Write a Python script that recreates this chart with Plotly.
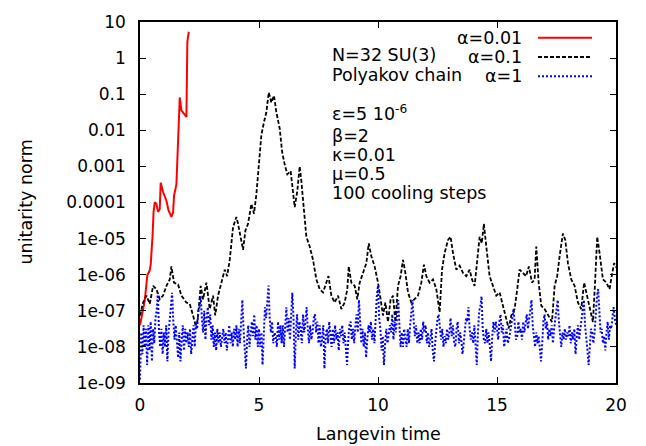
import plotly.graph_objects as go
import numpy as np

# Langevin time and log10(unitarity norm) for each gauge-cooling strength alpha

# alpha = 0.01 (runs away before t = 2.1)
red_t = [0.0, 0.06, 0.2, 0.31, 0.4, 0.45, 0.5, 0.53, 0.57, 0.62, 0.69, 0.76, 0.83, 0.87,
         0.97, 1.11, 1.2, 1.32, 1.39, 1.43, 1.53, 1.57, 1.62, 1.67, 1.74, 1.85, 1.95,
         1.99, 2.05]
red_log = [-7.4, -7.17, -6.72, -6.0, -5.9, -5.72, -5.35, -4.9, -4.26, -3.99, -4.04, -4.26,
           -4.18, -3.45, -3.71, -3.95, -4.22, -4.40, -4.27, -3.81, -3.50, -2.63, -1.54,
           -1.09, -1.45, -1.54, -1.63, 0.46, 0.73]

# alpha = 0.1
black_t = [0.0, 0.13, 0.27, 0.41, 0.55, 0.69, 0.83, 0.97, 1.11, 1.25,
           1.32, 1.43, 1.6, 1.74, 1.95, 2.09, 2.23, 2.37, 2.44, 2.55,
           2.65, 2.79, 2.93, 3.07, 3.16, 3.28, 3.42, 3.56, 3.66, 3.77,
           3.91, 4.05, 4.12, 4.23, 4.33, 4.43, 4.54, 4.68, 4.79, 4.89,
           4.99, 5.10, 5.21, 5.31, 5.41, 5.52, 5.63, 5.73, 5.87, 5.97,
           6.08, 6.19, 6.33, 6.43, 6.50, 6.61, 6.71, 6.78, 6.89, 6.99,
           7.13, 7.27, 7.41, 7.55, 7.69, 7.83, 7.92, 8.04, 8.18, 8.32,
           8.46, 8.6, 8.71, 8.77, 8.88, 9.02, 9.13, 9.23, 9.37, 9.51,
           9.61, 9.72, 9.86, 10.0, 10.11, 10.21, 10.31, 10.42, 10.53, 10.63,
           10.73, 10.84, 10.95, 11.05, 11.15, 11.26, 11.40, 11.54, 11.68, 11.82,
           11.93, 12.03, 12.17, 12.31, 12.45, 12.59, 12.69, 12.80, 12.94, 13.05,
           13.15, 13.29, 13.43, 13.57, 13.71, 13.85, 13.95, 14.06, 14.17, 14.27,
           14.36, 14.45, 14.55, 14.69, 14.83, 14.97, 15.11, 15.25, 15.39, 15.49,
           15.60, 15.74, 15.85, 15.95, 16.09, 16.22, 16.34, 16.47, 16.58, 16.65,
           16.75, 16.86, 17.0, 17.17, 17.31, 17.42, 17.53, 17.63, 17.77, 17.87,
           17.98, 18.12, 18.26, 18.40, 18.54, 18.66, 18.75, 18.87, 19.03, 19.12,
           19.21, 19.31, 19.45, 19.59, 19.73, 19.82, 19.92, 20.0]
black_log = [-7.13, -6.77, -6.58, -6.81, -6.31, -6.40, -6.68, -6.58, -6.31, -6.13,
             -5.77, -6.22, -6.27, -6.58, -6.77, -6.81, -7.13, -7.49, -7.13, -6.31,
             -6.68, -6.22, -6.95, -6.58, -7.13, -6.58, -6.22, -5.86, -6.04, -5.59,
             -4.68, -4.40, -4.59, -4.95, -5.31, -4.77, -4.59, -4.04, -4.31, -3.77,
             -3.04, -2.13, -1.77, -1.50, -0.95, -1.23, -1.04, -1.50, -1.95, -2.59,
             -2.95, -3.22, -3.13, -3.77, -4.13, -3.68, -3.00, -3.41, -4.13, -4.95,
             -5.22, -5.59, -6.13, -6.40, -6.49, -6.22, -6.04, -6.58, -6.77, -6.58,
             -6.95, -6.77, -6.40, -5.77, -6.22, -6.31, -6.68, -6.22, -5.95, -5.68,
             -5.13, -5.49, -5.77, -6.22, -6.68, -7.13, -6.77, -7.31, -6.68, -6.58,
             -7.31, -6.31, -6.04, -5.59, -5.95, -6.49, -6.77, -6.68, -6.58, -6.22,
             -5.72, -6.04, -6.22, -6.13, -6.40, -7.04, -5.86, -5.40, -5.04, -4.95,
             -5.40, -5.86, -5.75, -5.95, -6.04, -5.86, -6.13, -6.31, -5.49, -4.95,
             -5.13, -4.59, -5.22, -6.04, -6.31, -6.58, -6.49, -6.86, -7.31, -7.49,
             -7.13, -6.95, -6.40, -5.86, -5.95, -6.04, -5.77, -6.22, -6.13, -5.22,
             -6.22, -6.86, -6.95, -7.13, -7.31, -6.31, -6.04, -5.49, -4.86, -5.04,
             -5.68, -6.13, -6.31, -6.77, -6.95, -6.22, -6.49, -6.86, -7.31, -6.22,
             -4.95, -5.40, -6.13, -6.22, -6.40, -6.04, -5.68, -5.80]

# alpha = 1, sampled every 0.05 in Langevin time (one row per unit of time)
blue_dt = 0.05
blue_log = [
    -8.9, -7.6, -8.2, -7.4, -8.0, -7.5, -8.5, -7.4, -8.1, -7.3, -8.4, -7.5, -7.9, -7.2, -7.0, -6.5, -7.6, -8.0, -7.5, -8.2,
    -7.6, -8.0, -7.4, -8.4, -7.6, -7.2, -6.8, -6.5, -7.3, -7.8, -7.4, -8.0, -8.3, -7.6, -8.4, -7.8, -7.4, -8.1, -7.5, -7.9,
    -7.6, -8.0, -7.5, -8.2, -7.7, -7.4, -8.0, -7.3, -7.5, -7.0, -6.9, -6.6, -7.2, -7.6, -7.0, -7.8, -7.2, -6.9, -7.4, -7.1,
    -7.8, -7.4, -8.0, -7.6, -8.1, -7.5, -7.9, -7.6, -8.0, -7.7, -7.5, -7.9, -7.6, -8.1, -7.7, -7.4, -7.9, -7.6, -8.0, -7.5,
    -7.8, -7.4, -8.0, -7.5, -7.9, -7.2, -6.7, -7.5, -8.2, -8.6, -7.8, -7.4, -8.0, -7.6, -7.3, -7.7, -7.1, -7.8, -7.4, -8.0,
    -7.5, -8.0, -7.6, -8.5, -7.6, -6.9, -7.2, -6.6, -6.3, -7.2, -7.6, -7.3, -7.9, -7.6, -7.7, -8.0, -7.3, -7.8, -7.4, -7.9,
    -7.4, -8.0, -7.2, -6.9, -7.6, -7.2, -7.8, -7.0, -6.5, -7.2, -8.6, -7.6, -7.1, -7.8, -7.3, -7.5, -7.9, -7.1, -7.6, -7.3,
    -6.9, -7.5, -7.9, -7.4, -7.8, -7.6, -7.2, -7.1, -7.6, -7.3, -7.9, -7.4, -8.0, -7.8, -7.4, -8.6, -7.7, -7.5, -7.9, -7.3,
    -7.6, -8.0, -7.5, -7.9, -7.4, -7.8, -7.6, -8.1, -7.5, -7.7, -7.4, -7.9, -7.6, -8.2, -8.5, -7.8, -7.4, -7.3, -7.8, -7.5,
    -7.9, -7.4, -7.1, -7.6, -6.7, -7.3, -7.9, -7.5, -8.0, -7.6, -8.3, -7.8, -7.4, -7.6, -7.3, -7.8, -7.5, -7.9, -7.0, -6.6,
    -6.3, -7.2, -7.5, -8.1, -7.7, -8.5, -7.9, -7.5, -7.9, -7.7, -7.4, -7.6, -7.1, -7.8, -7.3, -7.6, -7.0, -6.7, -7.4, -8.0,
    -7.6, -8.0, -7.5, -7.8, -8.0, -7.5, -7.9, -7.4, -7.0, -6.7, -7.3, -7.7, -7.4, -7.9, -7.6, -7.9, -7.5, -7.8, -7.3, -7.6,
    -7.4, -7.9, -7.6, -8.0, -7.8, -7.5, -8.1, -8.4, -7.9, -7.5, -7.2, -7.1, -7.6, -7.8, -7.5, -8.0, -7.7, -7.9, -7.5, -7.8,
    -7.6, -7.2, -7.7, -7.4, -7.9, -8.0, -7.5, -7.3, -7.9, -7.6, -7.8, -8.2, -7.9, -7.5, -7.2, -7.3, -6.9, -7.5, -7.8, -7.6,
    -7.9, -7.4, -8.1, -8.5, -7.6, -7.0, -6.9, -6.6, -7.5, -7.8, -7.9, -7.5, -7.9, -7.6, -8.0, -8.4, -7.7, -7.3, -7.6, -7.3,
    -7.5, -7.8, -7.3, -7.1, -7.6, -7.4, -8.0, -7.7, -7.5, -7.9, -7.8, -7.6, -7.4, -7.1, -6.95, -7.4, -7.8, -7.7, -7.3, -7.6,
    -7.5, -7.8, -7.3, -7.6, -7.4, -7.1, -7.5, -7.2, -7.0, -6.7, -7.4, -7.8, -8.0, -7.6, -7.9, -7.7, -8.2, -8.4, -7.9, -7.3,
    -7.1, -7.5, -7.3, -7.8, -7.5, -7.7, -7.4, -7.9, -7.5, -7.2, -6.9, -6.7, -7.3, -7.6, -8.0, -7.6, -7.8, -7.5, -7.8, -7.6,
    -7.7, -7.4, -7.9, -7.6, -7.8, -7.5, -8.2, -7.7, -7.4, -7.8, -7.5, -7.2, -7.0, -6.7, -7.4, -7.9, -8.1, -8.5, -7.8, -7.5,
    -7.6, -7.9, -7.6, -7.0, -6.6, -6.4, -7.2, -7.6, -7.5, -7.9, -7.7, -8.1, -7.6, -7.3, -7.8, -7.4, -7.5, -7.1, -6.9, -7.2,
    -7.4,
]
blue_t = [round(i * blue_dt, 2) for i in range(len(blue_log))]

y_tick_vals = [1e1, 1e0, 1e-1, 1e-2, 1e-3, 1e-4, 1e-5, 1e-6, 1e-7, 1e-8, 1e-9]
y_tick_text = ["10", "1", "0.1", "0.01", "0.001", "0.0001",
               "1e-05", "1e-06", "1e-07", "1e-08", "1e-09"]
x_tick_vals = [0, 5, 10, 15, 20]

legend_names = ["\u03b1=0.01", "\u03b1=0.1", "\u03b1=1"]
info_lines = ["N=32 SU(3)", "Polyakov chain",
              "\u03b5=5 10<sup>-6</sup>", "\u03b2=2", "\u03ba=0.01",
              "\u03bc=0.5", "100 cooling steps"]

FONT = "DejaVu Sans"
W, H = 646, 446
L, R, T, B = 140, 30, 15, 63
pw, ph = W - L - R, H - T - B


def px(x):
    return (x - L) / pw


def py(y):
    return (H - B - y) / ph


colors = ["#ff0000", "#000000", "#0000ff"]
dashes = ["solid", "4px,2px", "2px,2px"]
widths = [2.0, 1.8, 2.0]
series = [(red_t, red_log), (black_t, black_log), (blue_t, blue_log)]

fig = go.Figure()
for (t, lg), c, d, w, name in zip(series, colors, dashes, widths, legend_names):
    fig.add_trace(go.Scatter(
        x=t, y=np.power(10.0, np.array(lg)), mode="lines", name=name,
        line=dict(color=c, dash=d, width=w), showlegend=False,
    ))

# key in the upper right: label, then a line sample to its right
for i, (name, c, d, w) in enumerate(zip(legend_names, colors, dashes, widths)):
    yy = 31 + 19.7 * i
    fig.add_annotation(x=px(524), y=py(yy), xref="paper", yref="paper",
                       text=name, showarrow=False, xanchor="right", yanchor="middle",
                       font=dict(family=FONT, size=17.5, color="black"))
    fig.add_shape(type="line", xref="paper", yref="paper",
                  x0=px(538), x1=px(592), y0=py(yy), y1=py(yy),
                  line=dict(color=c, dash=d, width=w))

# run parameters
info_y = [49, 69, 108, 131, 151, 170, 189]
for txt, yy in zip(info_lines, info_y):
    fig.add_annotation(x=px(330), y=py(yy), xref="paper", yref="paper",
                       text=txt, showarrow=False, xanchor="left", yanchor="middle",
                       font=dict(family=FONT, size=17.5, color="black"))

# axis titles
fig.add_annotation(x=px(25), y=py(199), xref="paper", yref="paper",
                   text="unitarity norm", textangle=-90, showarrow=False,
                   xanchor="center", yanchor="middle",
                   font=dict(family=FONT, size=17.5, color="black"))
fig.add_annotation(x=px(378), y=py(435), xref="paper", yref="paper",
                   text="Langevin time", showarrow=False,
                   xanchor="center", yanchor="middle",
                   font=dict(family=FONT, size=17.5, color="black"))

axis_common = dict(showline=True, linecolor="black", linewidth=1.5, mirror="allticks",
                   ticks="inside", ticklen=6, tickwidth=1, tickcolor="black",
                   showgrid=False, zeroline=False,
                   tickfont=dict(family=FONT, size=17, color="black"))

fig.update_xaxes(range=[0, 20], tickmode="array", tickvals=x_tick_vals,
                 ticklabelstandoff=6, **axis_common)
fig.update_yaxes(type="log", range=[-9, 1], tickmode="array", tickvals=y_tick_vals,
                 ticktext=y_tick_text, ticklabelstandoff=9, **axis_common)

fig.update_layout(width=W, height=H, margin=dict(l=L, r=R, t=T, b=B),
                  plot_bgcolor="white", paper_bgcolor="white",
                  font=dict(family=FONT, size=17, color="black"))

fig.write_html("out.html")
